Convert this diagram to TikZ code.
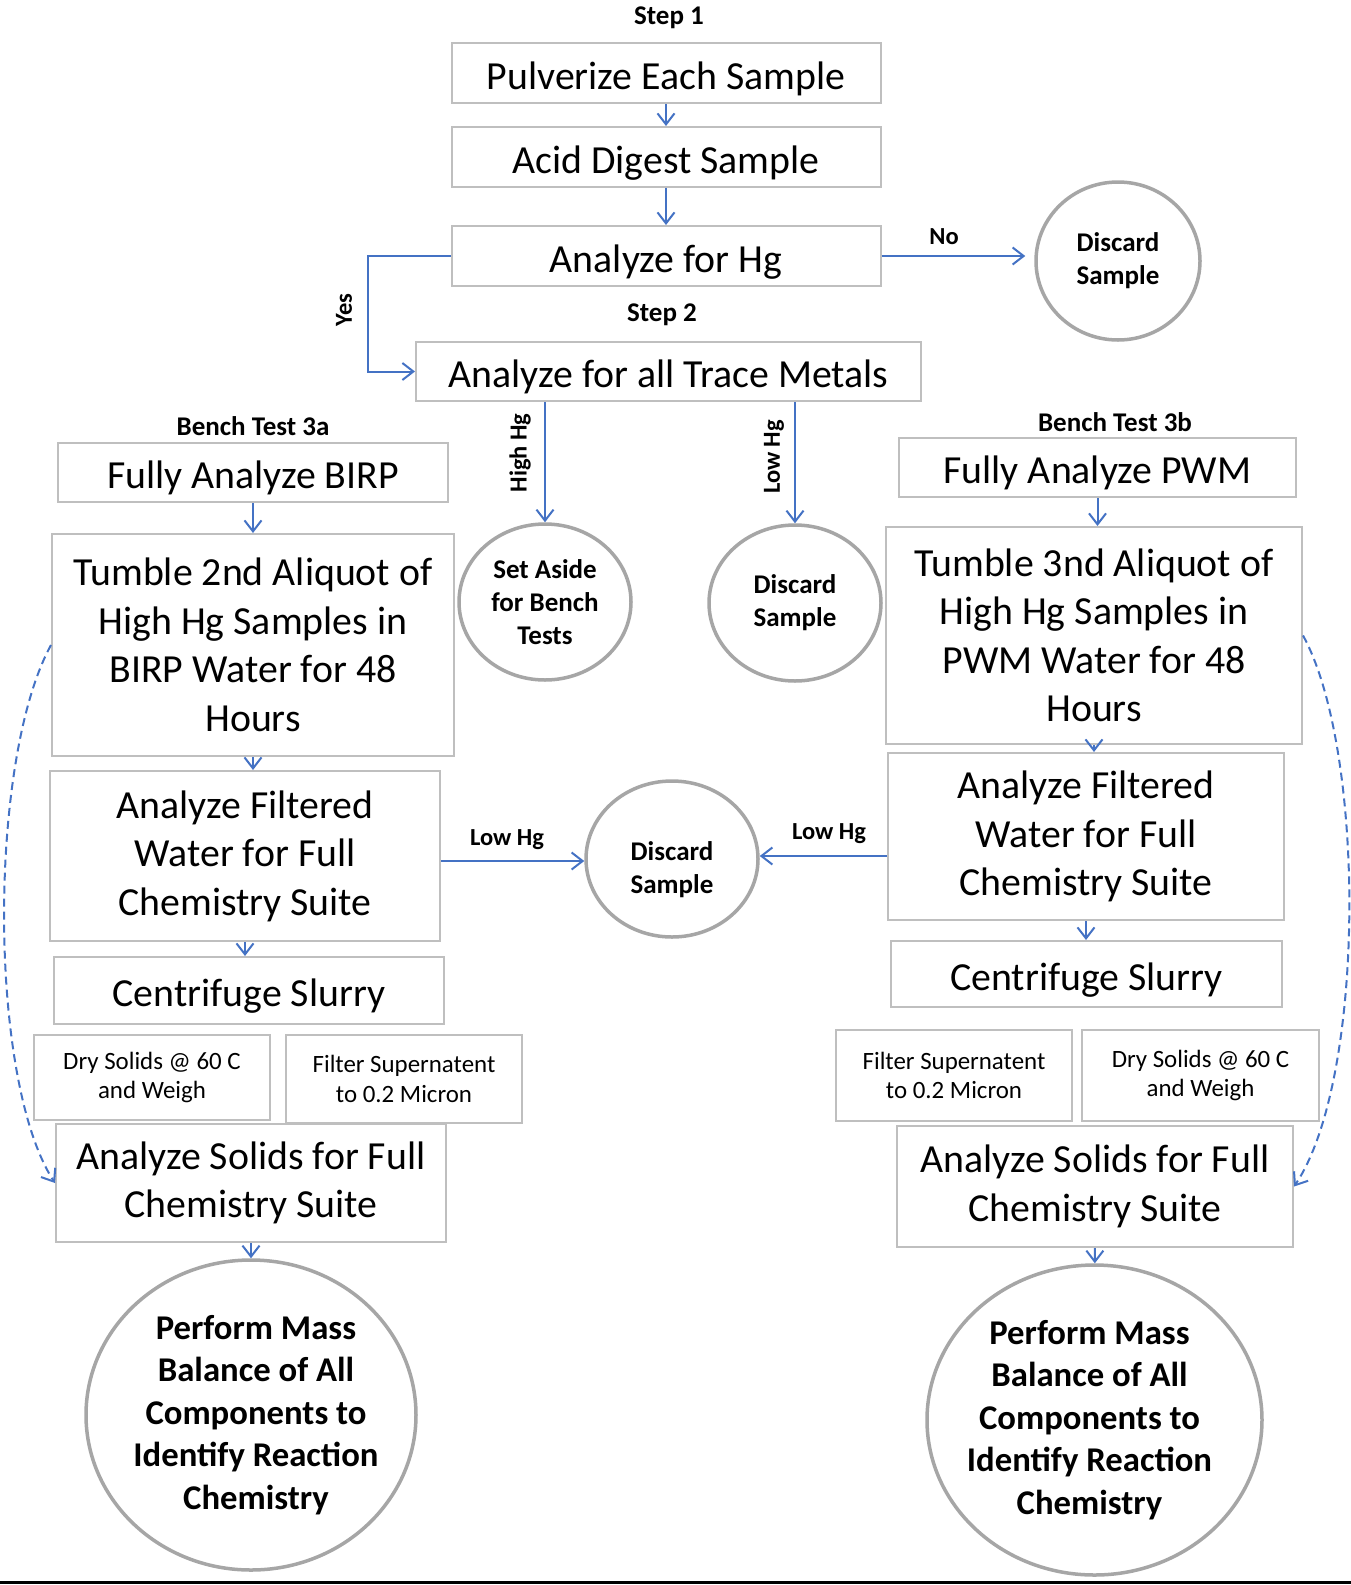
\documentclass[tikz,border=0pt]{standalone}
\usepackage{fontspec}
\setmainfont{Carlito}
\usetikzlibrary{positioning,shapes.geometric,arrows.meta}
\definecolor{flowblue}{HTML}{4472C4}
\definecolor{boxgray}{HTML}{BFBFBF}
\definecolor{ringgray}{HTML}{A6A6A6}

\begin{document}
\begin{tikzpicture}[x=1pt,y=-1pt]
        \tikzstyle{every node}=[inner sep=0pt, align=center]
        \tikzstyle{stage}=[draw=boxgray, line width=2pt, fill=white, font=\fontsize{39.8}{48.5}\selectfont]
        \tikzstyle{onestage}=[stage, text height=32pt, text depth=0pt]
        \tikzstyle{smallstage}=[stage, font=\fontsize{24.9}{29.5}\selectfont]
        \tikzstyle{ring}=[ellipse, draw=ringgray, line width=3.5pt, fill=white, font=\bfseries\fontsize{27}{33}\selectfont]
        \tikzstyle{bigring}=[ring, font=\bfseries\fontsize{34.7}{42.5}\selectfont]
        \tikzstyle{heading}=[font=\bfseries\fontsize{27}{32}\selectfont]
        \tikzstyle{flowlabel}=[font=\bfseries\fontsize{24.5}{29}\selectfont]
        \tikzstyle{flow}=[draw=flowblue, line width=2pt, -{Straight Barb[length=11pt,width=17pt]}]
        \tikzstyle{loopback}=[flow, dash pattern=on 8pt off 5pt]

        \useasboundingbox (0,0) rectangle (1351,1585);

        % top chain
        \node[heading] (step1) at (669,18) {Step 1};
        \node[onestage, minimum width=429, minimum height=60] (pulverize) at (666,73) {Pulverize Each Sample};
        \node[onestage, minimum width=429, minimum height=60] (digest) at (666,157) {Acid Digest Sample};
        \node[onestage, minimum width=429, minimum height=60] (hg) at (666,256) {Analyze for Hg};
        \node[heading] (step2) at (662,315) {Step 2};
        \node[onestage, minimum width=505, minimum height=59] (trace) at (668.5,371.5) {Analyze for all Trace Metals};
        \node[ring, minimum width=164, minimum height=158] (discardA) at (1118,261) {Discard\\Sample};
        \node[flowlabel] (no) at (944,237) {No};
        \node[flowlabel, rotate=90] (yes) at (344,310) {Yes};

        \draw[flow] (pulverize) -- (digest);
        \draw[flow] (digest) -- (hg);
        \draw[flow, shorten >=9pt] (hg.east) -- (hg.east -| discardA.west);
        \draw[flow] (hg.west) -- ++(-83,0) |- (trace.west);

        % split on Hg
        \node[ring, minimum width=172, minimum height=156] (aside) at (545,602) {Set Aside\\for Bench\\Tests};
        \node[ring, minimum width=172, minimum height=156] (discardB) at (795,603) {Discard\\Sample};
        \node[flowlabel, rotate=90] (highhg) at (520,453) {High Hg};
        \node[flowlabel, rotate=90] (lowhg) at (774,457) {Low Hg};
        \draw[flow] (aside.north |- trace.south) -- (aside.north);
        \draw[flow] (discardB.north |- trace.south) -- (discardB.north);

        % bench test 3a
        \node[heading] (bench3a) at (253,426) {Bench Test 3a};
        \node[onestage, minimum width=390, minimum height=59] (birp) at (253,472.5) {Fully Analyze BIRP};
        \node[stage, minimum width=402, minimum height=222] (tumbleL) at (253,645) {Tumble 2nd Aliquot of\\High Hg Samples in\\BIRP Water for 48\\Hours};
        \node[stage, minimum width=390, minimum height=170] (filteredL) at (245,856) {Analyze Filtered\\Water for Full\\Chemistry Suite};
        \node[onestage, minimum width=390, minimum height=67] (centL) at (249,990.5) {Centrifuge Slurry};
        \node[smallstage, minimum width=236, minimum height=85] (dryL) at (152,1077.5) {Dry Solids @ 60 C\\and Weigh};
        \node[smallstage, minimum width=236, minimum height=88] (filterL) at (404,1079) {Filter Supernatent\\to 0.2 Micron};
        \node[stage, minimum width=390, minimum height=118] (solidsL) at (251,1183) {Analyze Solids for Full\\Chemistry Suite};
        \node[bigring, minimum width=330, minimum height=310] (massL) at (251,1415) {};
        \node[font=\bfseries\fontsize{34.7}{42.5}\selectfont] (massLtext) at ([xshift=5pt]massL) {Perform Mass\\Balance of All\\Components to\\Identify Reaction\\Chemistry};

        \draw[flow] (birp) -- (tumbleL);
        \draw[flow] (tumbleL.south) -- (tumbleL.south |- filteredL.north);
        \draw[flow] (filteredL.south) -- (filteredL.south |- centL.north);
        \draw[flow] (solidsL) -- (massL);
        \draw[loopback] (tumbleL.west) .. controls (-12,760) and (-12,1080) .. (solidsL.west);

        % middle discard
        \node[ring, minimum width=172, minimum height=156] (discardC) at (672,859) {};
        \node[font=\bfseries\fontsize{27}{33}\selectfont] (discardCtext) at ([yshift=-11pt]discardC) {Discard\\Sample};
        \node[flowlabel] (lowhgL) at (507,840) {Low Hg};
        \node[flowlabel] (lowhgR) at (829,834) {Low Hg};

        % bench test 3b
        \node[heading] (bench3b) at (1115,422) {Bench Test 3b};
        \node[onestage, minimum width=397, minimum height=59] (pwm) at (1097.5,467.5) {Fully Analyze PWM};
        \node[stage, minimum width=416, minimum height=217] (tumbleR) at (1094,635.5) {Tumble 3nd Aliquot of\\High Hg Samples in\\PWM Water for 48\\Hours};
        \node[stage, minimum width=396, minimum height=167] (filteredR) at (1086,836.5) {Analyze Filtered\\Water for Full\\Chemistry Suite};
        \node[onestage, minimum width=391, minimum height=66] (centR) at (1086.5,974) {Centrifuge Slurry};
        \node[smallstage, minimum width=236, minimum height=91] (filterR) at (954,1075.5) {Filter Supernatent\\to 0.2 Micron};
        \node[smallstage, minimum width=237, minimum height=91] (dryR) at (1200.5,1075.5) {Dry Solids @ 60 C\\and Weigh};
        \node[stage, minimum width=396, minimum height=121] (solidsR) at (1095,1186.5) {Analyze Solids for Full\\Chemistry Suite};
        \node[bigring, minimum width=335, minimum height=310] (massR) at (1094.5,1420) {};
        \node[font=\bfseries\fontsize{34.7}{42.5}\selectfont] (massRtext) at ([xshift=-5pt]massR) {Perform Mass\\Balance of All\\Components to\\Identify Reaction\\Chemistry};

        \draw[flow] (pwm.south) -- (pwm.south |- tumbleR.north);
        \draw[flow] (tumbleR.south) -- (tumbleR.south |- filteredR.north);
        \draw[flow] (filteredR.south) -- (filteredR.south |- centR.north);
        \draw[flow] (solidsR) -- (massR);
        \draw[loopback] (tumbleR.east) .. controls (1366,750) and (1366,1080) .. (solidsR.east);

        \draw[flow] (filteredL.east |- 0,861) -- (discardC.west |- 0,861);
        \draw[flow] (filteredR.west |- 0,856) -- (discardC.east |- 0,856);

        % rule at the foot
        \coordinate (footL) at (0,1582);
        \coordinate (footR) at (1351,1582);
        \draw[line width=3pt] (footL) -- (footR);
\end{tikzpicture}
\end{document}
